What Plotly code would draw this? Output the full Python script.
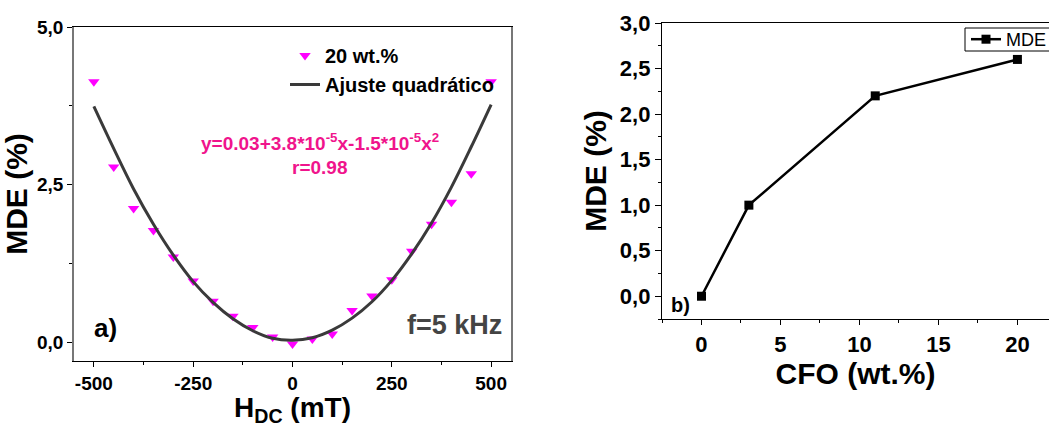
import plotly.graph_objects as go

# ---------------- data ----------------
# (a) MDE vs H_DC, 20 wt.% sample
h_dc = [-500, -450, -400, -350, -300, -250, -200, -150, -100, -50, 0,
        50, 100, 150, 200, 250, 300, 350, 400, 450, 500]
mde_a = [4.13, 2.78, 2.12, 1.77, 1.35, 0.97, 0.65, 0.41, 0.23, 0.08, -0.03,
         0.05, 0.13, 0.50, 0.73, 0.99, 1.44, 1.87, 2.22, 2.67, 4.13]
# quadratic fit curve
fit_x = [-500, -450, -400, -350, -300, -250, -200, -150, -100, -50, 0,
         50, 100, 150, 200, 250, 300, 350, 400, 450, 500]
fit_y = [3.74, 3.07, 2.43, 1.87, 1.38, 0.96, 0.63, 0.37, 0.18, 0.06, 0.03,
         0.07, 0.19, 0.38, 0.64, 0.98, 1.40, 1.89, 2.46, 3.10, 3.77]

# (b) MDE vs CFO content
cfo = [0, 3, 11, 20]
mde_b = [0.0, 1.0, 2.2, 2.6]

left_xticks = [-500, -250, 0, 250, 500]
left_xticklabels = ["-500", "-250", "0", "250", "500"]
left_yticks = [0.0, 2.5, 5.0]
left_yticklabels = ["0,0", "2,5", "5,0"]
right_xticks = [0, 5, 10, 15, 20]
right_yticks = [0.0, 0.5, 1.0, 1.5, 2.0, 2.5, 3.0]
right_yticklabels = ["0,0", "0,5", "1,0", "1,5", "2,0", "2,5", "3,0"]

FONT = "Liberation Sans, Arial, Helvetica, sans-serif"
W, H = 1049, 427

fig = go.Figure()

fig.add_trace(go.Scatter(
    x=h_dc, y=mde_a, mode="markers", name="20 wt.%",
    marker=dict(symbol="triangle-down", size=10, color="#FF00FF"),
    xaxis="x", yaxis="y", legend="legend"))
fig.add_trace(go.Scatter(
    x=fit_x, y=fit_y, mode="lines", name="Ajuste quadrático",
    line=dict(color="#3a3a3a", width=3, shape="spline"),
    xaxis="x", yaxis="y", legend="legend"))
fig.add_trace(go.Scatter(
    x=cfo, y=mde_b, mode="lines+markers", name="MDE",
    line=dict(color="black", width=2.5),
    marker=dict(symbol="square", size=9, color="black"),
    xaxis="x2", yaxis="y2", legend="legend2"))

def px_x(p):
    return p / W

def px_y(p):
    return 1 - p / H

bold = dict(family=FONT, weight=700, color="black")

fig.update_layout(
    width=W, height=H,
    margin=dict(l=0, r=0, t=0, b=0, autoexpand=False),
    paper_bgcolor="white", plot_bgcolor="white",
    font=dict(family=FONT, color="black"),
    showlegend=True,
    xaxis=dict(
        domain=[px_x(74), px_x(511)], range=[-550, 550], anchor="y",
        tickmode="array", tickvals=left_xticks, ticktext=left_xticklabels,
        ticks="outside", ticklen=5, tickwidth=1, tickcolor="black",
        minor=dict(dtick=125, tick0=0, ticks="outside", ticklen=3, tickcolor="black"),
        showline=True, linecolor="black", linewidth=1.3, mirror=True,
        showgrid=False, zeroline=False,
        tickfont=dict(size=19, **bold),
        title=dict(text="H<sub>DC</sub> (mT)", font=dict(size=28, **bold), standoff=2),
    ),
    yaxis=dict(
        domain=[px_y(361), px_y(27)], range=[-0.3, 5.0], anchor="x",
        tickmode="array", tickvals=left_yticks, ticktext=left_yticklabels,
        ticks="outside", ticklen=5, tickwidth=1, tickcolor="black",
        minor=dict(dtick=1.25, tick0=0, ticks="outside", ticklen=3, tickcolor="black"),
        showline=True, linecolor="#777777", linewidth=1.5, mirror=True,
        showgrid=False, zeroline=False,
        tickfont=dict(size=19, **bold),
        title=dict(text="MDE (%)", font=dict(size=30, **bold), standoff=2),
    ),
    xaxis2=dict(
        domain=[px_x(662), 1.0], range=[-2.5, 22.0], anchor="y2",
        tickmode="array", tickvals=right_xticks,
        ticks="outside", ticklen=5, tickwidth=1, tickcolor="black",
        minor=dict(dtick=2.5, tick0=0, ticks="outside", ticklen=3, tickcolor="black"),
        showline=True, linecolor="black", linewidth=1.3, mirror=True,
        showgrid=False, zeroline=False,
        tickfont=dict(size=22, **bold),
        title=dict(text="CFO (wt.%)", font=dict(size=30, **bold), standoff=4),
    ),
    yaxis2=dict(
        domain=[px_y(319), px_y(23)], range=[-0.25, 3.0], anchor="x2",
        tickmode="array", tickvals=right_yticks, ticktext=right_yticklabels,
        ticks="outside", ticklen=6, tickwidth=1, tickcolor="black",
        minor=dict(dtick=0.25, tick0=0, ticks="outside", ticklen=3, tickcolor="black"),
        showline=True, linecolor="black", linewidth=1.3, mirror=False,
        showgrid=False, zeroline=False,
        tickfont=dict(size=22, **bold),
        title=dict(text="MDE (%)", font=dict(size=30, **bold), standoff=4),
    ),
    legend=dict(
        x=px_x(285), y=px_y(36), xanchor="left", yanchor="top",
        bgcolor="rgba(0,0,0,0)", borderwidth=0,
        font=dict(size=20, **bold), tracegroupgap=0,
    ),
    legend2=dict(
        x=px_x(966), y=px_y(39.5), xanchor="left", yanchor="middle",
        bgcolor="rgba(0,0,0,0)", borderwidth=0,
        font=dict(size=18, family=FONT, color="black"),
    ),
)

# frame of the (b) legend, which is cut by the right edge of the figure
fig.add_shape(type="rect", xref="paper", yref="paper",
              x0=px_x(965), x1=px_x(1070), y0=px_y(51), y1=px_y(28),
              line=dict(color="black", width=1), fillcolor="white", layer="below")

annotations = [
    dict(text="y=0.03+3.8*10<sup>-5</sup>x-1.5*10<sup>-5</sup>x<sup>2</sup>",
         x=px_x(320), y=px_y(142), font=dict(size=19, family=FONT, weight=700, color="#F0148C")),
    dict(text="r=0.98", x=px_x(319), y=px_y(167),
         font=dict(size=19, family=FONT, weight=700, color="#F0148C")),
    dict(text="a)", x=px_x(105), y=px_y(328),
         font=dict(size=26, family=FONT, weight=700, color="black")),
    dict(text="f=5 kHz", x=px_x(504), y=px_y(325), xanchor="right",
         font=dict(size=27, family=FONT, weight=700, color="#444444")),
    dict(text="b)", x=px_x(680), y=px_y(305),
         font=dict(size=20, family=FONT, weight=700, color="black")),
]
for a in annotations:
    a.setdefault("xanchor", "center")
    fig.add_annotation(xref="paper", yref="paper", showarrow=False,
                       yanchor="middle", **a)

fig.write_html("out.html")
